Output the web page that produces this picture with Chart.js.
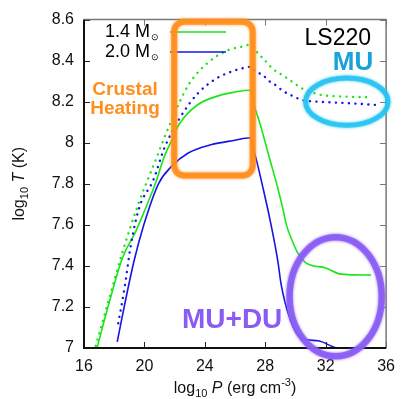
<!DOCTYPE html>
<html>
<head>
<meta charset="utf-8">
<script src="https://cdn.jsdelivr.net/npm/chart.js@4"></script>
<style>
  body { margin: 0; background: #fff; }
  #wrap { width: 404px; height: 399px; }
</style>
</head>
<body>
<div id="wrap"><canvas id="tempChart" width="404" height="399"></canvas></div>
<script>
// log10 P (erg cm^-3) vs log10 T (K), LS220 EOS
const xTicks = [16, 20, 24, 28, 32, 36];
const yTicks = [7, 7.2, 7.4, 7.6, 7.8, 8, 8.2, 8.4, 8.6];

// 1.4 Msun, MU+DU (solid green)
const p14 = [16.86, 17.7, 18.55, 19.42, 20.07, 20.72, 21.3, 21.8, 22.3, 23.5, 25.05, 26.0, 26.9, 27.05, 27.2, 27.64, 28.3, 28.84, 29.16, 29.4, 29.8, 30.1, 30.7, 32.0, 33.0, 35.0];
const t14 = [7.0, 7.23, 7.44, 7.567, 7.68, 7.8, 7.93, 8.01, 8.09, 8.184, 8.232, 8.247, 8.256, 8.255, 8.2, 8.096, 7.92, 7.776, 7.68, 7.6, 7.52, 7.47, 7.415, 7.39, 7.36, 7.355];

// 2.0 Msun, MU+DU (solid blue)
const p20 = [18.2, 18.66, 19.3, 19.96, 20.93, 21.8, 22.9, 24.4, 26.0, 27.0, 27.2, 27.4, 27.85, 28.3, 28.84, 29.05, 29.6, 30.35, 31.5, 32.8, 35.0];
const t20 = [7.03, 7.2, 7.42, 7.6, 7.8, 7.885, 7.95, 7.99, 8.012, 8.024, 7.97, 7.92, 7.78, 7.63, 7.42, 7.31, 7.15, 7.05, 7.035, 7.0, 6.995];

// 1.4 Msun, MU only (dotted green)
const p14mu = [16.78, 17.7, 18.6, 19.64, 20.68, 21.8, 22.9, 24.2, 25.5, 26.56, 27.0, 27.55, 27.98, 28.5, 29.16, 29.8, 30.45, 31.0, 31.76, 32.6, 33.7, 34.9];
const t14mu = [7.01, 7.25, 7.48, 7.71, 7.904, 8.11, 8.28, 8.39, 8.45, 8.47, 8.478, 8.433, 8.401, 8.36, 8.329, 8.296, 8.264, 8.248, 8.232, 8.227, 8.224, 8.221];

// 2.0 Msun, MU only (dotted blue)
const p20mu = [18.27, 18.7, 19.1, 19.64, 20.6, 21.3, 22.34, 23.53, 24.7, 25.7, 26.8, 27.0, 27.4, 27.86, 28.17, 28.7, 29.16, 29.7, 30.45, 31.5, 32.6, 33.7, 35.33];
const t20mu = [7.12, 7.3, 7.5, 7.68, 7.82, 7.97, 8.12, 8.24, 8.31, 8.345, 8.368, 8.37, 8.345, 8.329, 8.305, 8.28, 8.253, 8.232, 8.208, 8.2, 8.196, 8.192, 8.184];

const GREEN = '#19e619';
const BLUE = '#1414e6';
const ORANGE = '#ff8e1c';
const CYAN = '#26c3f2';
const PURPLE = '#8a5cf4';
const FONT = '"Liberation Sans", Arial, sans-serif';

function pts(xs, ys) {
    return xs.map((x, i) => ({ x: x, y: ys[i] }));
}

function lineSet(label, xs, ys, color, dotted) {
    return {
        label: label,
        data: pts(xs, ys),
        borderColor: color,
        backgroundColor: color,
        borderWidth: dotted ? 2.4 : 1.6,
        borderDash: dotted ? [0.1, 6.4] : [],
        borderCapStyle: dotted ? 'round' : 'butt',
        pointRadius: 0,
        showLine: true,
        fill: false,
        tension: 0.35,
        cubicInterpolationMode: 'monotone'
    };
}

// ticks on all four sides pointing into the plot, plus the frame
function drawFrame(chart) {
    const { ctx, chartArea: a, scales } = chart;
    ctx.save();
    ctx.lineWidth = 1;
    xTicks.forEach(v => {
        const x = Math.round(scales.x.getPixelForValue(v)) + 0.5;
        ctx.strokeStyle = '#222';
        ctx.beginPath(); ctx.moveTo(x, a.bottom); ctx.lineTo(x, a.bottom - 6); ctx.stroke();
        ctx.strokeStyle = '#777';
        ctx.beginPath(); ctx.moveTo(x, a.top); ctx.lineTo(x, a.top + 6); ctx.stroke();
    });
    yTicks.forEach(v => {
        const y = Math.round(scales.y.getPixelForValue(v)) + 0.5;
        ctx.strokeStyle = '#222';
        ctx.beginPath(); ctx.moveTo(a.left, y); ctx.lineTo(a.left + 6, y); ctx.stroke();
        ctx.strokeStyle = '#777';
        ctx.beginPath(); ctx.moveTo(a.right, y); ctx.lineTo(a.right - 6, y); ctx.stroke();
    });
    ctx.lineWidth = 1.5;
    ctx.strokeStyle = '#777';
    ctx.beginPath();
    ctx.moveTo(a.left, a.top); ctx.lineTo(a.right, a.top); ctx.lineTo(a.right, a.bottom);
    ctx.stroke();
    ctx.lineWidth = 2;
    ctx.strokeStyle = '#111';
    ctx.beginPath();
    ctx.moveTo(a.left, a.top); ctx.lineTo(a.left, a.bottom); ctx.lineTo(a.right, a.bottom);
    ctx.stroke();
    ctx.restore();
}

function fuzzyStroke(ctx, color, width) {
    ctx.save();
    ctx.strokeStyle = color;
    ctx.shadowColor = color;
    ctx.shadowBlur = 3;
    ctx.lineWidth = width;
    ctx.globalAlpha = 0.85;
    ctx.stroke();
    ctx.restore();
}

function drawEllipse(chart, cx, cy, rx, ry, color, width) {
    const { ctx, scales } = chart;
    const px = scales.x.getPixelForValue(cx);
    const py = scales.y.getPixelForValue(cy);
    const prx = scales.x.getPixelForValue(cx + rx) - px;
    const pry = py - scales.y.getPixelForValue(cy + ry);
    ctx.beginPath();
    ctx.ellipse(px, py, prx, pry, 0, 0, Math.PI * 2);
    fuzzyStroke(ctx, color, width);
}

function drawBox(chart, x0, x1, y0, y1, r, color, width) {
    const { ctx, scales } = chart;
    const l = scales.x.getPixelForValue(x0), rt = scales.x.getPixelForValue(x1);
    const t = scales.y.getPixelForValue(y1), b = scales.y.getPixelForValue(y0);
    ctx.beginPath();
    ctx.roundRect(l, t, rt - l, b - t, r);
    fuzzyStroke(ctx, color, width);
}

// draws text pieces in sequence: [text, font, dy]
function drawPieces(ctx, pieces, x, y, align) {
    let total = 0;
    pieces.forEach(p => { ctx.font = p[1]; total += ctx.measureText(p[0]).width; });
    let cx = align === 'center' ? x - total / 2 : (align === 'right' ? x - total : x);
    ctx.textAlign = 'left';
    pieces.forEach(p => {
        ctx.font = p[1];
        ctx.fillText(p[0], cx, y + (p[2] || 0));
        cx += ctx.measureText(p[0]).width;
    });
}

const overlay = {
    id: 'overlay',
    afterDatasetsDraw(chart) {
        const { ctx } = chart;
        drawFrame(chart);

        // legend
        ctx.save();
        ctx.fillStyle = '#000';
        ctx.textBaseline = 'alphabetic';
        const legend = [['1.4', GREEN, 37, 32], ['2.0', BLUE, 57, 52]];
        legend.forEach(([m, col, base, ly]) => {
            ctx.font = '18px ' + FONT;
            ctx.textAlign = 'right';
            ctx.fillText(m + ' M', 150, base);
            ctx.font = '9px ' + FONT;
            ctx.textAlign = 'left';
            ctx.fillText('\u2299', 151, base + 3);
            ctx.strokeStyle = col;
            ctx.lineWidth = 1.6;
            ctx.beginPath(); ctx.moveTo(170, ly); ctx.lineTo(226, ly); ctx.stroke();
        });
        ctx.restore();

        // highlighted regions
        drawBox(chart, 21.97, 27.17, 7.84, 8.59, 10, ORANGE, 6);
        drawEllipse(chart, 33.4, 8.2, 2.73, 0.115, CYAN, 5);
        drawEllipse(chart, 32.66, 7.25, 3.05, 0.29, PURPLE, 6.5);

        ctx.save();
        ctx.textBaseline = 'alphabetic';
        ctx.textAlign = 'right';
        ctx.fillStyle = '#000';
        ctx.font = '23px ' + FONT;
        ctx.fillText('LS220', 371, 45);
        ctx.textAlign = 'center';
        ctx.fillStyle = '#15a3d8';
        ctx.font = 'bold 26px ' + FONT;
        ctx.fillText('MU', 353, 70);
        ctx.fillStyle = ORANGE;
        ctx.font = 'bold 19px ' + FONT;
        ctx.fillText('Crustal', 125, 95);
        ctx.fillText('Heating', 125, 114);
        ctx.textAlign = 'left';
        ctx.fillStyle = PURPLE;
        ctx.font = 'bold 28px ' + FONT;
        ctx.fillText('MU+DU', 182, 328);
        ctx.restore();
    },
    afterDraw(chart) {
        const { ctx, chartArea: a } = chart;
        ctx.save();
        ctx.fillStyle = '#111';
        ctx.textBaseline = 'alphabetic';
        const f = '16px ' + FONT, fs = '11px ' + FONT, fi = 'italic 16px ' + FONT;
        drawPieces(ctx, [['log', f], ['10', fs, 4], [' ', f], ['P', fi], [' (erg cm', f], ['-3', fs, -7], [')', f]],
            (a.left + a.right) / 2, 393, 'center');
        ctx.translate(24, (a.top + a.bottom) / 2);
        ctx.rotate(-Math.PI / 2);
        drawPieces(ctx, [['log', f], ['10', fs, 4], [' ', f], ['T', fi], [' (K)', f]], 0, 0, 'center');
        ctx.restore();
    }
};

new Chart(document.getElementById('tempChart'), {
    type: 'scatter',
    data: {
        datasets: [
            lineSet('1.4 MU', p14mu, t14mu, GREEN, true),
            lineSet('2.0 MU', p20mu, t20mu, BLUE, true),
            lineSet('1.4 MU+DU', p14, t14, GREEN, false),
            lineSet('2.0 MU+DU', p20, t20, BLUE, false)
        ]
    },
    options: {
        responsive: false,
        animation: false,
        layout: { padding: { top: 15, right: 12, left: 0, bottom: 0 } },
        plugins: { legend: { display: false }, tooltip: { enabled: false } },
        scales: {
            x: {
                type: 'linear', min: 16, max: 36,
                afterFit: s => { s.height = 51; },
                afterBuildTicks: s => { s.ticks = xTicks.map(v => ({ value: v })); },
                grid: { display: false, drawTicks: false },
                border: { display: false },
                ticks: { padding: 9, color: '#111', font: { family: FONT, size: 16 } }
            },
            y: {
                type: 'linear', min: 7, max: 8.6,
                afterFit: s => { s.width = 84; },
                afterBuildTicks: s => { s.ticks = yTicks.map(v => ({ value: v })); },
                grid: { display: false, drawTicks: false },
                border: { display: false },
                ticks: {
                    padding: 10, color: '#111', font: { family: FONT, size: 16 },
                    callback: v => String(+v.toFixed(1))
                }
            }
        }
    },
    plugins: [overlay]
});
</script>
</body>
</html>
